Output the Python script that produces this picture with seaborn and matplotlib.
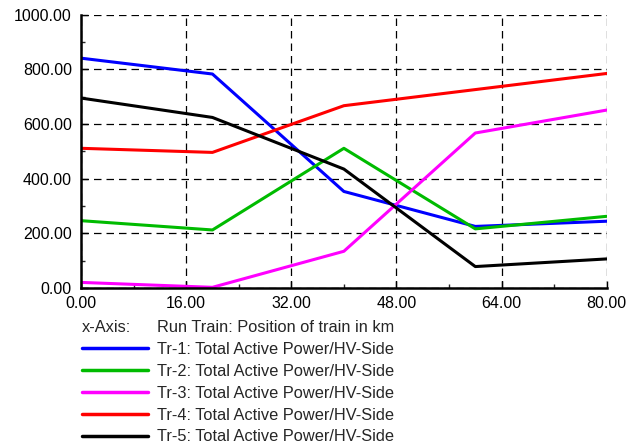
import matplotlib
matplotlib.use('Agg')
import matplotlib.pyplot as plt
import seaborn as sns
import pandas as pd
from matplotlib.ticker import MultipleLocator, FormatStrFormatter

# Position of train in km
position = [0, 20, 40, 60, 80]

# total active power on HV side for each transformer
tr1 = [841, 783, 353, 225, 244]
tr2 = [246, 212, 511, 216, 262]
tr3 = [20, 2, 134, 567, 651]
tr4 = [511, 496, 667, 726, 785]
tr5 = [695, 624, 435, 78, 106]

labels = ['Tr-1: Total Active Power/HV-Side',
          'Tr-2: Total Active Power/HV-Side',
          'Tr-3: Total Active Power/HV-Side',
          'Tr-4: Total Active Power/HV-Side',
          'Tr-5: Total Active Power/HV-Side']
colors = ['#0000ff', '#00bb00', '#ff00ff', '#ff0000', '#000000']

rows = []
for lab, vals in zip(labels, [tr1, tr2, tr3, tr4, tr5]):
    for x, v in zip(position, vals):
        rows.append({'pos': x, 'power': v, 'series': lab})
df = pd.DataFrame(rows)

sns.set_style('white')
plt.rcParams['font.family'] = ['Liberation Sans', 'DejaVu Sans']

fig = plt.figure(figsize=(6.38, 4.47), dpi=100)
ax = fig.add_axes([0.127, 0.356, 0.824, 0.611])

sns.lineplot(data=df, x='pos', y='power', hue='series', palette=colors,
             linewidth=2.2, ax=ax, legend=False)

ax.set_xlim(0, 80)
ax.set_ylim(0, 1000)
ax.xaxis.set_major_locator(MultipleLocator(16))
ax.xaxis.set_minor_locator(MultipleLocator(8))
ax.yaxis.set_major_locator(MultipleLocator(200))
ax.yaxis.set_minor_locator(MultipleLocator(100))
ax.xaxis.set_major_formatter(FormatStrFormatter('%.2f'))
ax.yaxis.set_major_formatter(FormatStrFormatter('%.2f'))
ax.tick_params(axis='both', which='major', direction='in', length=5, width=1,
               labelsize=11.5, colors='black')
ax.tick_params(axis='x', which='major', pad=6)
ax.tick_params(axis='y', which='major', pad=6.5)
ax.tick_params(axis='both', which='minor', direction='in', length=3, width=1)
ax.tick_params(axis='x', which='both', bottom=True)
ax.tick_params(axis='y', which='both', left=True)
ax.set_xlabel('')
ax.set_ylabel('')

ax.grid(True, which='major', color='black', linestyle=(0, (6, 4)), linewidth=0.9)
for s in ['top', 'right']:
    ax.spines[s].set_visible(False)
for s in ['left', 'bottom']:
    ax.spines[s].set_color('black')
    ax.spines[s].set_linewidth(1.8)
ax.set_axisbelow(True)

# legend area below the plot
fig.text(0.1285, 0.268, 'x-Axis:', fontsize=11.8, va='center')
fig.text(0.246, 0.268, 'Run Train: Position of train in km', fontsize=11.8, va='center')
handles = [plt.Line2D([], [], color=c, lw=2.5) for c in colors]
fig.legend(handles, labels, loc='upper left', bbox_to_anchor=(0.1285, 0.235),
           frameon=False, fontsize=11.8, handlelength=4.0, handletextpad=0.55,
           labelspacing=0.42, borderpad=0, borderaxespad=0)

fig.savefig('out.png', dpi=100, facecolor='white')
